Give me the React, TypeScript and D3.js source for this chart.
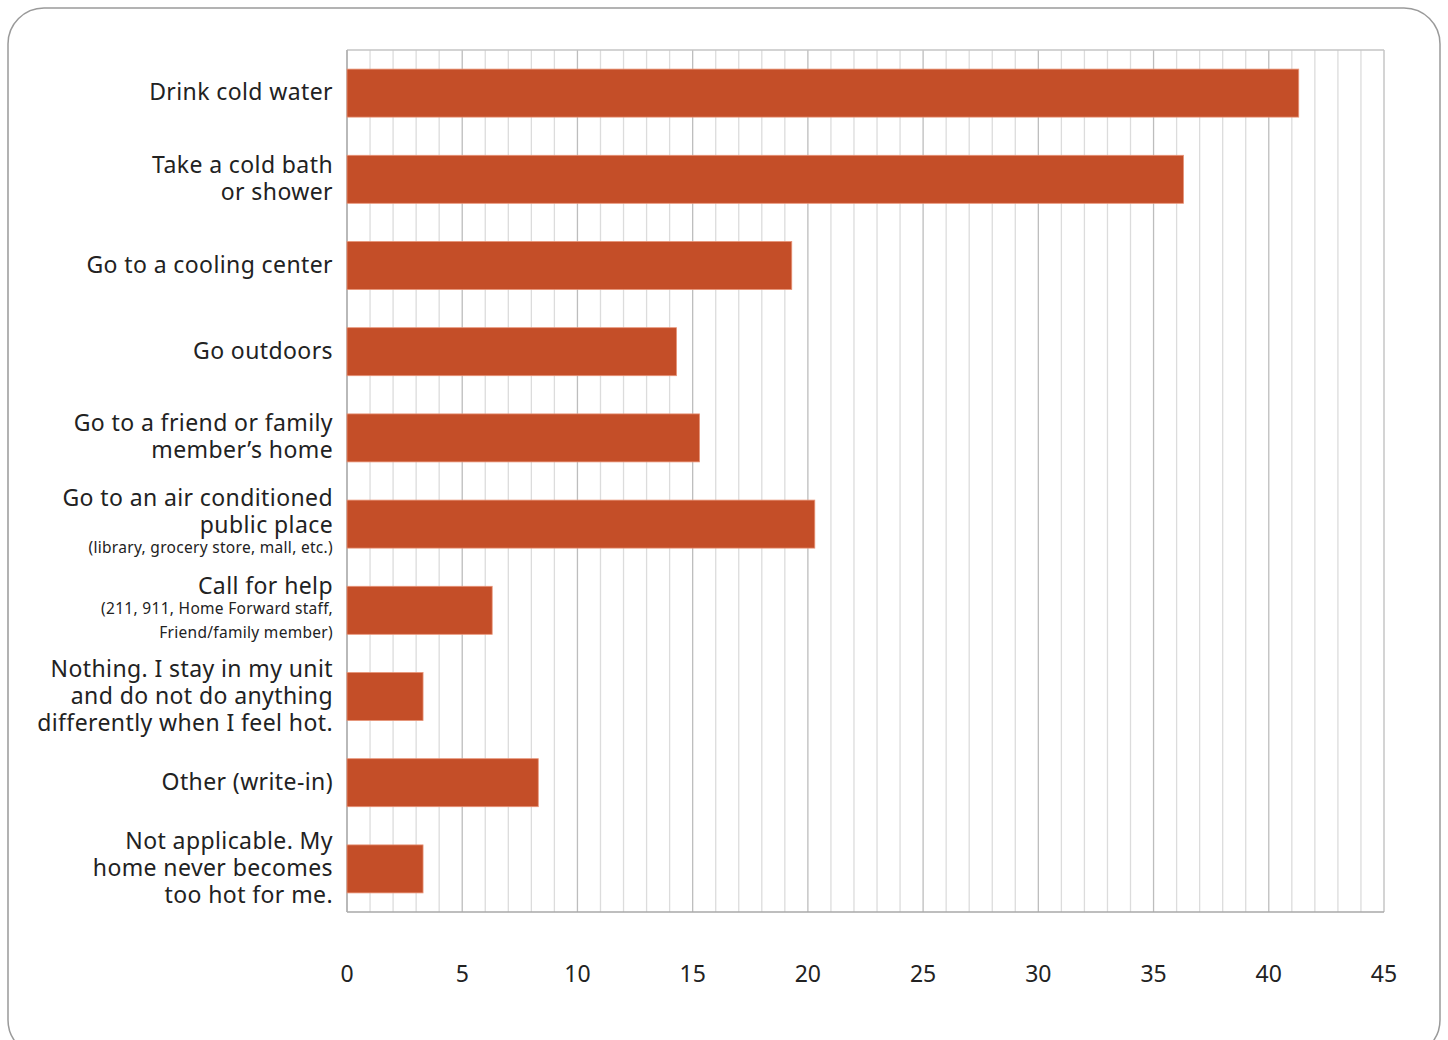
import React from "react";
import * as d3 from "d3";

const categories: string[][] = [
  ["Drink cold water"],
  ["Take a cold bath", "or shower"],
  ["Go to a cooling center"],
  ["Go outdoors"],
  ["Go to a friend or family", "member’s home"],
  ["Go to an air conditioned", "public place", "(library, grocery store, mall, etc.)"],
  ["Call for help", "(211, 911, Home Forward staff,", "Friend/family member)"],
  ["Nothing. I stay in my unit", "and do not do anything", "differently when I feel hot."],
  ["Other (write-in)"],
  ["Not applicable. My", "home never becomes", "too hot for me."],
];
// which lines are small (sub-notes)
const smallLines: boolean[][] = [
  [false],
  [false, false],
  [false],
  [false],
  [false, false],
  [false, false, true],
  [false, true, true],
  [false, false, false],
  [false],
  [false, false, false],
];
const values: number[] = [41.3, 36.3, 19.3, 14.3, 15.3, 20.3, 6.3, 3.3, 8.3, 3.3];
const tickValues: number[] = [0, 5, 10, 15, 20, 25, 30, 35, 40, 45];

const W = 1448;
const H = 1040;
const left = 347;
const right = 1384;
const top = 50;
const bottom = 912;
const FONT = "'Noto Sans', 'Open Sans', sans-serif";

export default function App() {
  const x = d3.scaleLinear().domain([0, 45]).range([left, right]);
  const idx = categories.map((_, i) => String(i));
  const y = d3.scaleBand().domain(idx).range([top, bottom]).paddingInner(0.443).paddingOuter(0.2215);
  const grid = d3.range(0, 46);

  return (
    <svg width={W} height={H} style={{ position: "absolute", left: 0, top: 0 }} fontFamily={FONT}>
      <rect x={0} y={0} width={W} height={H} fill="#fff" />
      <rect x={8} y={8} width={1432} height={1048} rx={36} ry={36} fill="none" stroke="#9a9a9a" strokeWidth={1.5} />
      {grid.map((g) => (
        <line
          key={g}
          x1={x(g)}
          x2={x(g)}
          y1={top}
          y2={bottom}
          stroke={g % 5 === 0 ? "#bdbdbd" : "#dcdcdc"}
          strokeWidth={1.3}
        />
      ))}
      <line x1={left} x2={right} y1={top} y2={top} stroke="#c4c4c4" strokeWidth={1.5} />
      <line x1={left} x2={right} y1={bottom} y2={bottom} stroke="#a8a8a8" strokeWidth={1.5} />
      <line x1={left} x2={left} y1={top} y2={bottom} stroke="#b0b0b0" strokeWidth={1.5} />
      {values.map((v, i) => (
        <rect
          key={i}
          x={x(0)}
          y={y(String(i))!}
          width={x(v) - x(0)}
          height={y.bandwidth()}
          fill="#c44e28"
          stroke="#e89478"
          strokeWidth={0.8}
        />
      ))}
      {categories.map((lines, i) => {
        const cy = y(String(i))! + y.bandwidth() / 2;
        const sm = smallLines[i];
        const offs: number[] = [0];
        for (let k = 1; k < lines.length; k++) {
          const gap = sm[k] || sm[k - 1] ? 23.5 : 27;
          offs.push(offs[k - 1] + gap);
        }
        const span = offs[offs.length - 1];
        return (
          <g key={i}>
            {lines.map((t, k) => (
              <text
                key={k}
                x={333}
                y={cy - span / 2 + offs[k] - 2}
                textAnchor="end"
                dominantBaseline="central"
                fontSize={sm[k] ? 15.5 : 23}
                letterSpacing={sm[k] ? 0.3 : 0.4}
                fill="#222"
              >
                {t}
              </text>
            ))}
          </g>
        );
      })}
      {tickValues.map((t) => (
        <text
          key={t}
          x={x(t)}
          y={973}
          textAnchor="middle"
          dominantBaseline="central"
          fontSize={23}
          fill="#222"
        >
          {t}
        </text>
      ))}
    </svg>
  );
}
